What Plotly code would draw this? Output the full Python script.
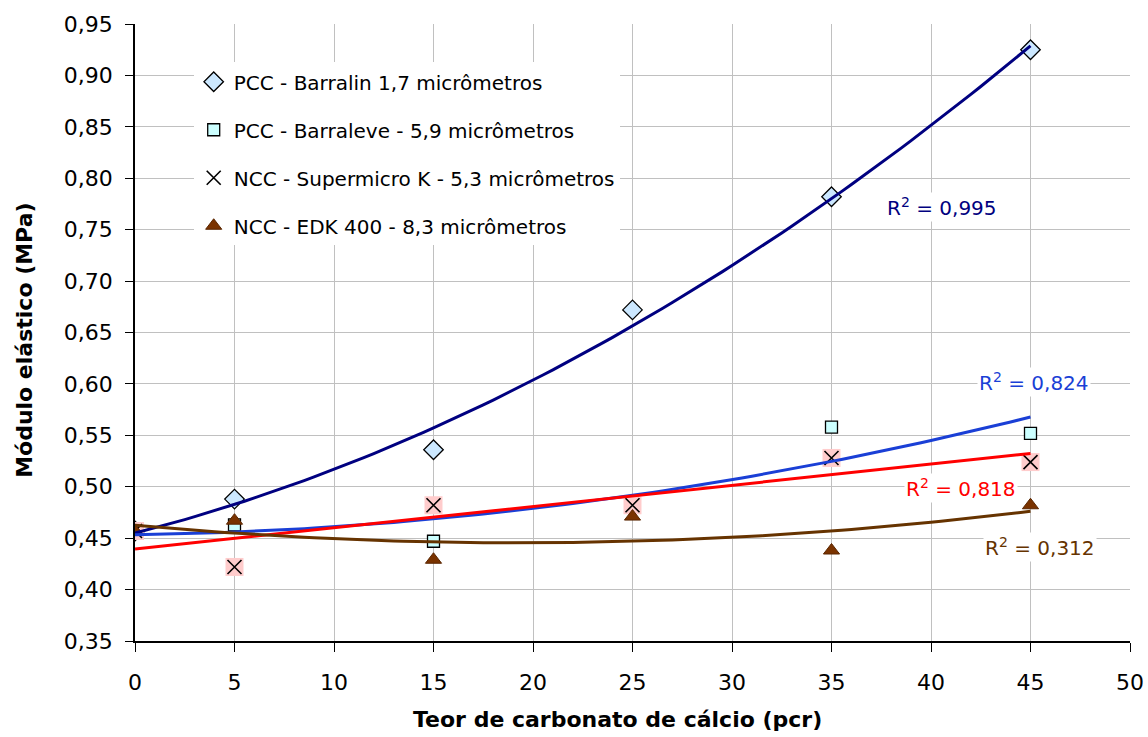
import numpy as np
import plotly.graph_objects as go

x = [0, 5, 15, 25, 35, 45]
barralin = [0.457, 0.488, 0.536, 0.672, 0.782, 0.925]
barraleve = [0.457, 0.463, 0.447, 0.485, 0.558, 0.552]
supermicro = [0.457, 0.422, 0.482, 0.482, 0.528, 0.524]
edk = [0.457, 0.467, 0.429, 0.471, 0.438, 0.482]

names = ["PCC - Barralin 1,7 micrômetros", "PCC - Barraleve - 5,9 micrômetros",
         "NCC - Supermicro K - 5,3 micrômetros", "NCC - EDK 400 - 8,3 micrômetros"]
r2_labels = ["R<sup>2</sup> = 0,995", "R<sup>2</sup> = 0,824", "R<sup>2</sup> = 0,818", "R<sup>2</sup> = 0,312"]
r2_pos = [(40.55, 0.772), (45.2, 0.602), (41.5, 0.499), (45.5, 0.441)]
trend_deg = [2, 2, 1, 2]
line_colors = ["#000080", "#1a3fd6", "#ff0000", "#663300"]
x_title = "Teor de carbonato de cálcio (pcr)"
y_title = "Módulo elástico (MPa)"

FONT = "DejaVu Sans"
fig = go.Figure()

# markers
fig.add_trace(go.Scatter(x=x, y=barralin, mode="markers", name=names[0], legendgroup="a",
                         marker=dict(symbol="diamond", size=15, color="#cce8ff", line=dict(color="black", width=1.3))))
fig.add_trace(go.Scatter(x=x, y=barraleve, mode="markers", name=names[1], legendgroup="b",
                         marker=dict(symbol="square", size=12, color="#ccffff", line=dict(color="black", width=1.3))))
fig.add_trace(go.Scatter(x=x, y=supermicro, mode="markers", showlegend=False, legendgroup="c",
                         marker=dict(symbol="square", size=18, color="#ffcccc", line=dict(width=0))))
fig.add_trace(go.Scatter(x=x, y=supermicro, mode="markers", name=names[2], legendgroup="c",
                         marker=dict(symbol="x-thin", size=14, color="black", line=dict(color="black", width=1.6))))
fig.add_trace(go.Scatter(x=x, y=edk, mode="markers", name=names[3], legendgroup="d",
                         marker=dict(symbol="triangle-up", size=14, color="#7a3300", line=dict(color="#5a2600", width=1))))

# trendlines
xs = np.linspace(0, 45, 91)
for ys, deg, col in zip([barralin, barraleve, supermicro, edk], trend_deg, line_colors):
    c = np.polyfit(x, ys, deg)
    fig.add_trace(go.Scatter(x=xs, y=np.polyval(c, xs), mode="lines", showlegend=False,
                             line=dict(color=col, width=3), hoverinfo="skip"))

for lab, (px, py), col in zip(r2_labels, r2_pos, line_colors):
    fig.add_annotation(x=px, y=py, text=lab, showarrow=False, bgcolor="white",
                       font=dict(family=FONT, size=20, color=col))

# axis titles
fig.add_annotation(xref="paper", yref="paper", x=0.4845, y=-0.128, text="<b>" + x_title + "</b>",
                   showarrow=False, xanchor="center", yanchor="middle", font=dict(family=FONT, size=22))
fig.add_annotation(xref="paper", yref="paper", x=-0.1106, y=0.488, text="<b>" + y_title + "</b>",
                   showarrow=False, xanchor="center", yanchor="middle", textangle=-90,
                   font=dict(family=FONT, size=22))

fig.update_layout(
    width=1148, height=737,
    margin=dict(l=135, r=18, t=24, b=96),
    plot_bgcolor="white", paper_bgcolor="white",
    separators=",.",
    font=dict(family=FONT, size=20, color="black"),
    legend=dict(x=0.059, y=0.938, xanchor="left", yanchor="top", bgcolor="white",
                font=dict(family=FONT, size=20), tracegroupgap=19),
    xaxis=dict(range=[0, 50], dtick=5, showgrid=True, gridcolor="#c0c0c0", gridwidth=1,
               showline=True, linecolor="black", linewidth=1.5, ticks="outside", ticklen=9,
               tickcolor="black", zeroline=False, tickfont=dict(size=22), ticklabelstandoff=12,
               automargin=False),
    yaxis=dict(range=[0.35, 0.95], dtick=0.05, tickformat=".2f", showgrid=True, gridcolor="#c0c0c0",
               gridwidth=1, showline=True, linecolor="black", linewidth=1.5, ticks="outside", ticklen=8,
               tickcolor="black", zeroline=False, tickfont=dict(size=22), ticklabelstandoff=8,
               automargin=False),
)
fig.write_html("out.html", config={"displayModeBar": False},
               post_script="document.body.style.margin='0';document.body.style.overflow='hidden';")
